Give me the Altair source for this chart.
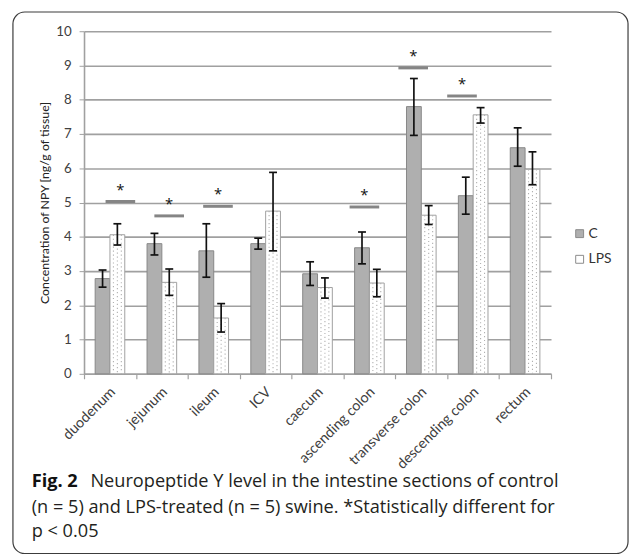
import altair as alt
import pandas as pd

sections = ["duodenum", "jejunum", "ileum", "ICV", "caecum", "ascending colon",
            "transverse colon", "descending colon", "rectum"]
c_mean = [2.78, 3.80, 3.59, 3.80, 2.92, 3.68, 7.80, 5.20, 6.60]
c_low = [2.53, 3.47, 2.82, 3.64, 2.58, 3.21, 6.96, 4.66, 6.06]
c_high = [3.03, 4.10, 4.38, 3.96, 3.27, 4.14, 8.62, 5.74, 7.18]
lps_mean = [4.06, 2.67, 1.63, 4.75, 2.52, 2.65, 4.63, 7.56, 5.97]
lps_low = [3.76, 2.29, 1.22, 3.59, 2.21, 2.25, 4.36, 7.32, 5.52]
lps_high = [4.38, 3.06, 2.05, 5.88, 2.80, 3.05, 4.91, 7.77, 6.48]

sig_sections = ["duodenum", "jejunum", "ileum", "ascending colon",
                "transverse colon", "descending colon"]
sig_level = [5.03, 4.61, 4.89, 4.87, 8.93, 8.11]

series = ["C", "LPS"]
caption_bold = "Fig. 2"
caption_lines = [
    "Neuropeptide Y level in the intestine sections of control",
    "(n = 5) and LPS-treated (n = 5) swine. *Statistically different for",
    "p < 0.05",
]
y_title = "Concentration of NPY [ng/g of tissue]"

df = pd.DataFrame({
    "section": sections, "c_mean": c_mean, "c_low": c_low, "c_high": c_high,
    "lps_mean": lps_mean, "lps_low": lps_low, "lps_high": lps_high,
})
sig_df = pd.DataFrame({"section": sig_sections, "level": sig_level})
one = pd.DataFrame({"k": [0]})

FONT = "Lato"
CAP_FONT = "Open Sans"
GRID = "#a0a0a0"

yscale = alt.Scale(domain=[0, 10], nice=False)
yaxis = alt.Axis(values=list(range(11)), grid=True, gridColor=GRID, gridWidth=1.6,
                 domainColor=GRID, domainWidth=1.6, tickColor=GRID, tickSize=5,
                 tickWidth=1, labelFont=FONT, labelFontSize=13.5, labelColor="#404040",
                 labelPadding=8, title=y_title, titleFont=FONT, titleFontSize=12.5,
                 titleFontWeight="normal", titleColor="#222222", titlePadding=4)
xaxis = alt.Axis(title=None, labelAngle=315, labelFont=FONT, labelFontSize=14.5,
                 labelColor="#404040", tickBand="extent", tickColor=GRID, tickSize=5,
                 tickWidth=1.2, domainColor=GRID, domainWidth=1.6, labelPadding=6,
                 labelOffset=-2, grid=False)
xenc = alt.X("section:N", sort=sections,
             scale=alt.Scale(paddingInner=0, paddingOuter=0), axis=xaxis)


def Y(field):
    return alt.Y(f"{field}:Q", scale=yscale, axis=yaxis)


base = alt.Chart(df)
W = 15
fill_scale = alt.Scale(domain=series, range=["#afafaf", "#ffffff"])
legend = alt.Legend(title=None, orient="none", legendX=495, legendY=198,
                    symbolType="square", symbolSize=64,
                    symbolStrokeColor="#8a8a8a", symbolStrokeWidth=1,
                    labelFont=FONT, labelFontSize=14, labelColor="#333333",
                    labelOffset=2, rowPadding=12, padding=0)
c_bar = base.mark_bar(width=W, xOffset=-W / 2, stroke="#878787", strokeWidth=1).encode(
    x=xenc, y=Y("c_mean"),
    fill=alt.Fill("series:N", scale=fill_scale, legend=legend)
).transform_calculate(series="'C'")
lps_bar = base.mark_bar(width=W, xOffset=W / 2, stroke="#9f9f9f", strokeWidth=1).encode(
    x=xenc, y=Y("lps_mean"),
    fill=alt.Fill("series:N", scale=fill_scale, legend=legend)
).transform_calculate(series="'LPS'")

dots = []
for off, dash_off in [(3.5, 0), (7.5, 2), (11.5, 0)]:
    dots.append(base.mark_rule(xOffset=off, strokeDash=[1.2, 2.8], strokeDashOffset=dash_off,
                               strokeWidth=1.1, color="#b0b0b0").encode(
        x=xenc, y=Y("lps_mean"), y2=alt.datum(0)))

err = []
for off, lo, hi in [(-W / 2, "c_low", "c_high"), (W / 2, "lps_low", "lps_high")]:
    err.append(base.mark_rule(xOffset=off, strokeWidth=1.7, color="#111111").encode(
        x=xenc, y=Y(lo), y2=alt.Y2(hi)))
    for f in (lo, hi):
        err.append(base.mark_tick(xOffset=off, size=8, thickness=1.7, color="#111111",
                                  opacity=1).encode(x=xenc, y=Y(f)))

main = alt.layer(c_bar, lps_bar, *dots, *err)

sig_x = alt.X("section:N", sort=sections,
              scale=alt.Scale(domain=sections, range=[12.1, 457.0], paddingInner=0,
                              paddingOuter=0), axis=None)
sig_base = alt.Chart(sig_df)
sig_line = sig_base.mark_tick(size=30, thickness=3, color="#858585", opacity=1).encode(
    x=sig_x, y=alt.Y("level:Q", scale=yscale, axis=yaxis))
sig_star = sig_base.mark_text(text="*", font=CAP_FONT, fontSize=15, color="#111111",
                              baseline="middle", dy=-12).encode(
    x=sig_x, y=alt.Y("level:Q", scale=yscale, axis=yaxis))
sig = alt.layer(sig_line, sig_star)

ob = alt.Chart(one)
border = ob.mark_rect(fill="transparent", stroke="#3c3c3c", strokeWidth=1.2,
                      cornerRadius=12).encode(
    x=alt.value(-72), x2=alt.value(551), y=alt.value(-19.5), y2=alt.value(529))
cap_b = ob.mark_text(font=CAP_FONT, fontSize=18.4, fontWeight="bold", color="#111111",
                     align="left", baseline="alphabetic").encode(
    x=alt.value(-53), y=alt.value(462), text=alt.value(caption_bold))
cap_lines = []
for (xx, yy), t in zip([(6.5, 462), (-53, 488), (-53, 512)], caption_lines):
    cap_lines.append(ob.mark_text(font=CAP_FONT, fontSize=18.4, color="#231f20", align="left",
                                  baseline="alphabetic").encode(
        x=alt.value(xx), y=alt.value(yy), text=alt.value(t)))

chart = alt.layer(main, sig, border, cap_b, *cap_lines).resolve_scale(
    x="independent").properties(
    width=473, height=347,
    padding={"left": 77, "top": 20, "right": 80, "bottom": 183},
    autosize=alt.AutoSizeParams(type="none"),
    background="white",
).configure_view(stroke=None)

chart.save("out.html", embed_options={"renderer": "svg", "actions": False})
